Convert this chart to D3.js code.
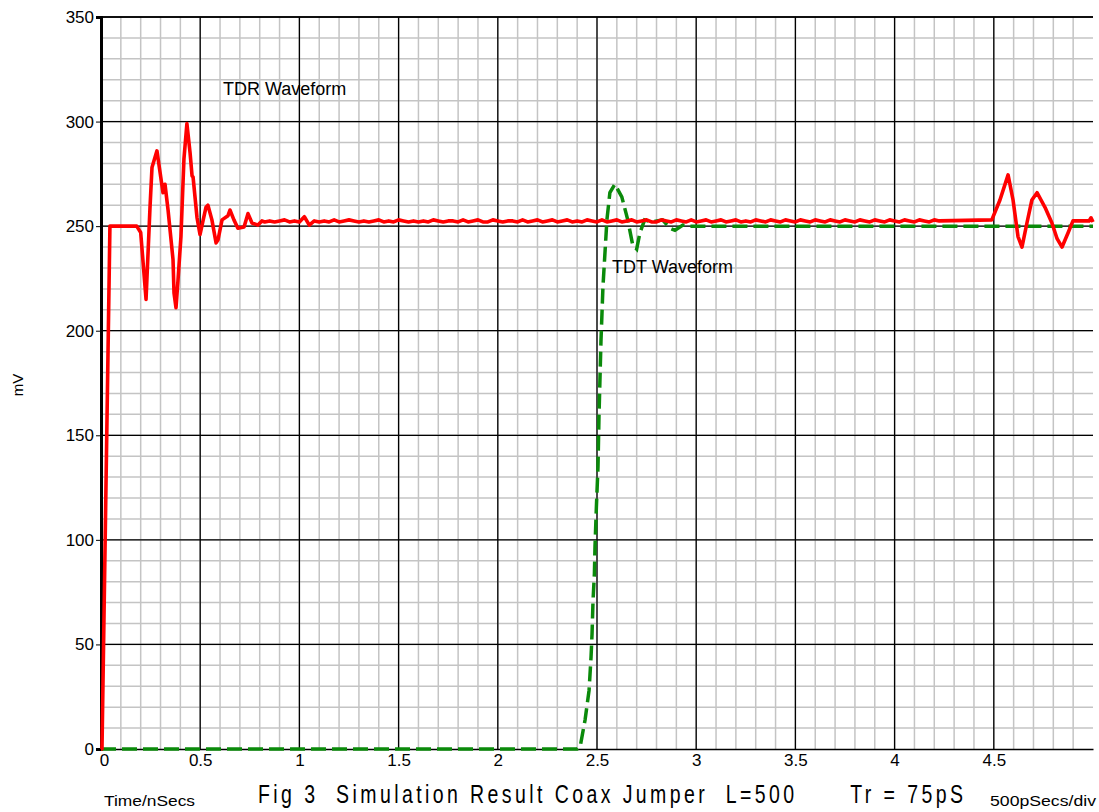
<!DOCTYPE html>
<html>
<head>
<meta charset="utf-8">
<script src="https://cdn.jsdelivr.net/npm/d3@7"></script>
<style>
  body { margin: 0; background: #fff; }
  svg { display: block; font-family: "Liberation Sans", Arial, sans-serif; }
</style>
</head>
<body>
<svg id="chart" width="1099" height="812"></svg>
<script>
// TDR (reflected) waveform, ns / mV
const tdrTime = [0, 0.005, 0.045, 0.18, 0.20, 0.227, 0.237, 0.247, 0.257, 0.282, 0.3125, 0.3226, 0.338,
  0.363, 0.368, 0.378, 0.388, 0.403, 0.418, 0.433, 0.449, 0.459, 0.464, 0.484, 0.499, 0.529, 0.539,
  0.559, 0.580, 0.590, 0.610, 0.640, 0.650, 0.670, 0.690, 0.721, 0.741, 0.761, 0.791, 0.811];
const tdrMv = [0, 0, 250, 250, 247, 215, 237, 259, 278, 286, 266, 270, 257.7,
  234, 218, 211, 224, 245, 282, 299, 285, 274, 273.5, 254, 246, 259, 260,
  253, 242, 243.5, 253, 255, 257.7, 253, 249, 249.6, 256, 251.5, 250.5, 252.5];

// flat, slightly noisy part of the TDR trace, one value every 0.025 ns from 0.825 ns
const tdrFlatStart = 0.825;
const tdrFlatStep = 0.025;
const tdrFlatMv = [
  252, 252.5, 252, 252.5, 253, 252, 252.5, 252, 254.5, 250.5,
  252.5, 252, 252.5, 252, 253, 252, 252.5, 253, 252.5, 252,
  252.5, 252, 252.5, 253, 252, 252.5, 252, 253, 252.5, 252,
  252.5, 252, 252.5, 252, 253, 252.5, 252, 252.5, 252.5, 252,
  253, 252, 252.5, 253, 252, 252, 253, 252.5, 252, 252.5,
  252.5, 252, 253, 252, 252.5, 253, 252, 252.5, 253, 252,
  252.5, 253, 252, 252.5, 252, 253, 252.5, 252, 253, 252,
  252.5, 253, 252, 252.5, 253, 252, 252.5, 253, 252, 252,
  253, 252.5, 252, 253, 252.5, 252, 253, 252, 252.5, 253,
  252, 252.5, 253, 252, 252.5, 253, 252, 252.5, 252, 253,
  252.5, 252, 253, 252.5, 252, 253, 252.5, 252, 253, 252.5,
  252, 253, 252.5, 252, 253, 252.5, 252, 253, 252.5, 252,
  253, 252.5, 252, 253, 252.5, 252, 253, 252.5, 252, 253,
  252.5, 252, 253, 252.5, 252, 253, 252.5];

// second reflection near 4.5 ns
const tdrTailTime = [4.49, 4.531, 4.572, 4.597, 4.622, 4.642, 4.667, 4.692, 4.718, 4.758, 4.793,
  4.819, 4.844, 4.874, 4.899, 4.98, 4.99, 5.0];
const tdrTailMv = [253, 262.5, 274.5, 262.5, 245, 240, 251.5, 262.5, 266, 259, 251.5,
  244, 240, 246.7, 252.5, 252.5, 254, 252];

// TDT (transmitted) waveform
const tdtTime = [0, 2.40, 2.415, 2.44, 2.46, 2.47, 2.475, 2.48, 2.487, 2.49, 2.497, 2.505, 2.51,
  2.52, 2.53, 2.55, 2.565, 2.59, 2.625, 2.655, 2.68, 2.70, 2.716, 2.74, 2.775, 2.83, 2.868,
  2.893, 2.933, 2.97, 5.0];
const tdtMv = [0, 0, 1, 14, 28, 44, 55, 71, 84, 97, 116, 135, 159,
  195, 221, 253, 266, 270, 264, 253, 241, 239, 246.7, 253, 252, 253, 249,
  248, 250.5, 250, 250];

const xTicks = [0, 0.5, 1, 1.5, 2, 2.5, 3, 3.5, 4, 4.5];
const yTicks = [0, 50, 100, 150, 200, 250, 300, 350];

const svg = d3.select('#chart');
const plotLeft = 101, plotRight = 1093, plotTop = 17, plotBottom = 749;

const x = d3.scaleLinear().domain([0, 5]).range([plotLeft, plotRight]);
const y = d3.scaleLinear().domain([0, 350]).range([plotBottom, plotTop]);

// minor grid
const grid = svg.append('g');
grid.selectAll('line.vx')
  .data(d3.range(1, 50).map((i) => i / 10))
  .enter().append('line')
  .attr('x1', (d) => x(d)).attr('x2', (d) => x(d))
  .attr('y1', plotTop).attr('y2', plotBottom)
  .attr('stroke', '#c4c4c4').attr('stroke-width', 1.5);
grid.selectAll('line.hy')
  .data(d3.range(1, 35).map((i) => i * 10))
  .enter().append('line')
  .attr('x1', plotLeft).attr('x2', plotRight)
  .attr('y1', (d) => y(d)).attr('y2', (d) => y(d))
  .attr('stroke', '#c4c4c4').attr('stroke-width', 1.5);

// major grid
grid.selectAll('line.mx')
  .data(xTicks.slice(1))
  .enter().append('line')
  .attr('x1', (d) => x(d)).attr('x2', (d) => x(d))
  .attr('y1', plotTop).attr('y2', plotBottom)
  .attr('stroke', '#000').attr('stroke-width', 1.3);
grid.selectAll('line.my')
  .data(yTicks.slice(1))
  .enter().append('line')
  .attr('x1', plotLeft).attr('x2', plotRight)
  .attr('y1', (d) => y(d)).attr('y2', (d) => y(d))
  .attr('stroke', '#000').attr('stroke-width', 1.3);

// axes
const yAxis = svg.append('g')
  .attr('transform', `translate(${plotLeft},0)`)
  .call(d3.axisLeft(y).tickValues(yTicks).tickSize(5).tickPadding(2).tickFormat(d3.format('d')));
yAxis.select('.domain').attr('stroke-width', 3);
yAxis.selectAll('text').attr('font-size', 17).attr('fill', '#000')
  .attr('font-family', '"Liberation Sans", Arial, sans-serif');

const xAxis = svg.append('g')
  .attr('transform', `translate(0,${plotBottom})`)
  .call(d3.axisBottom(x).tickValues(xTicks).tickSize(0).tickPadding(5).tickFormat(d3.format('')));
xAxis.select('.domain').attr('stroke-width', 1.5);
xAxis.selectAll('text').attr('font-size', 17).attr('fill', '#000')
  .attr('font-family', '"Liberation Sans", Arial, sans-serif');
xAxis.selectAll('.tick').filter((d) => d === 0).select('text').attr('dx', 3);

const line = d3.line().x((d) => x(d[0])).y((d) => y(d[1]));

// assemble the TDR trace
const tdrPoints = tdrTime.map((t, i) => [t, tdrMv[i]])
  .concat(tdrFlatMv.map((v, i) => [tdrFlatStart + i * tdrFlatStep, v]))
  .concat(tdrTailTime.map((t, i) => [t, tdrTailMv[i]]));
const tdtPoints = tdtTime.map((t, i) => [t, tdtMv[i]]);

svg.append('path')
  .datum(tdtPoints)
  .attr('d', line)
  .attr('fill', 'none')
  .attr('stroke', '#0a8a0a')
  .attr('stroke-width', 3.5)
  .attr('stroke-dasharray', '15,6');

svg.append('path')
  .datum(tdrPoints)
  .attr('d', line)
  .attr('fill', 'none')
  .attr('stroke', '#ff0000')
  .attr('stroke-width', 3.6)
  .attr('stroke-linejoin', 'round');

// top border
svg.append('line')
  .attr('x1', plotLeft).attr('x2', plotRight)
  .attr('y1', plotTop).attr('y2', plotTop)
  .attr('stroke', '#000').attr('stroke-width', 1.5);

// annotations
svg.append('text').attr('x', 223).attr('y', 95)
  .attr('font-size', 18).text('TDR Waveform');
svg.append('text').attr('x', 612).attr('y', 273)
  .attr('font-size', 18).text('TDT Waveform');

svg.append('text')
  .attr('transform', 'translate(23,385) rotate(-90)')
  .attr('text-anchor', 'middle')
  .attr('font-size', 15).text('mV');

svg.append('text').attr('x', 104).attr('y', 806)
  .attr('font-size', 15).attr('textLength', 91).attr('lengthAdjust', 'spacingAndGlyphs')
  .text('Time/nSecs');

// caption in a tall, condensed face
const squeeze = 0.78;
svg.append('g')
  .attr('transform', `scale(${squeeze},1)`)
  .append('text').attr('x', 258 / squeeze).attr('y', 803)
  .attr('font-size', 25)
  .attr('textLength', 705 / squeeze).attr('lengthAdjust', 'spacing')
  .attr('xml:space', 'preserve')
  .text('Fig 3  Simulation Result Coax Jumper  L=500      Tr = 75pS');

svg.append('text').attr('x', 990).attr('y', 806)
  .attr('font-size', 15).attr('textLength', 106).attr('lengthAdjust', 'spacingAndGlyphs')
  .text('500pSecs/div');
</script>
</body>
</html>
